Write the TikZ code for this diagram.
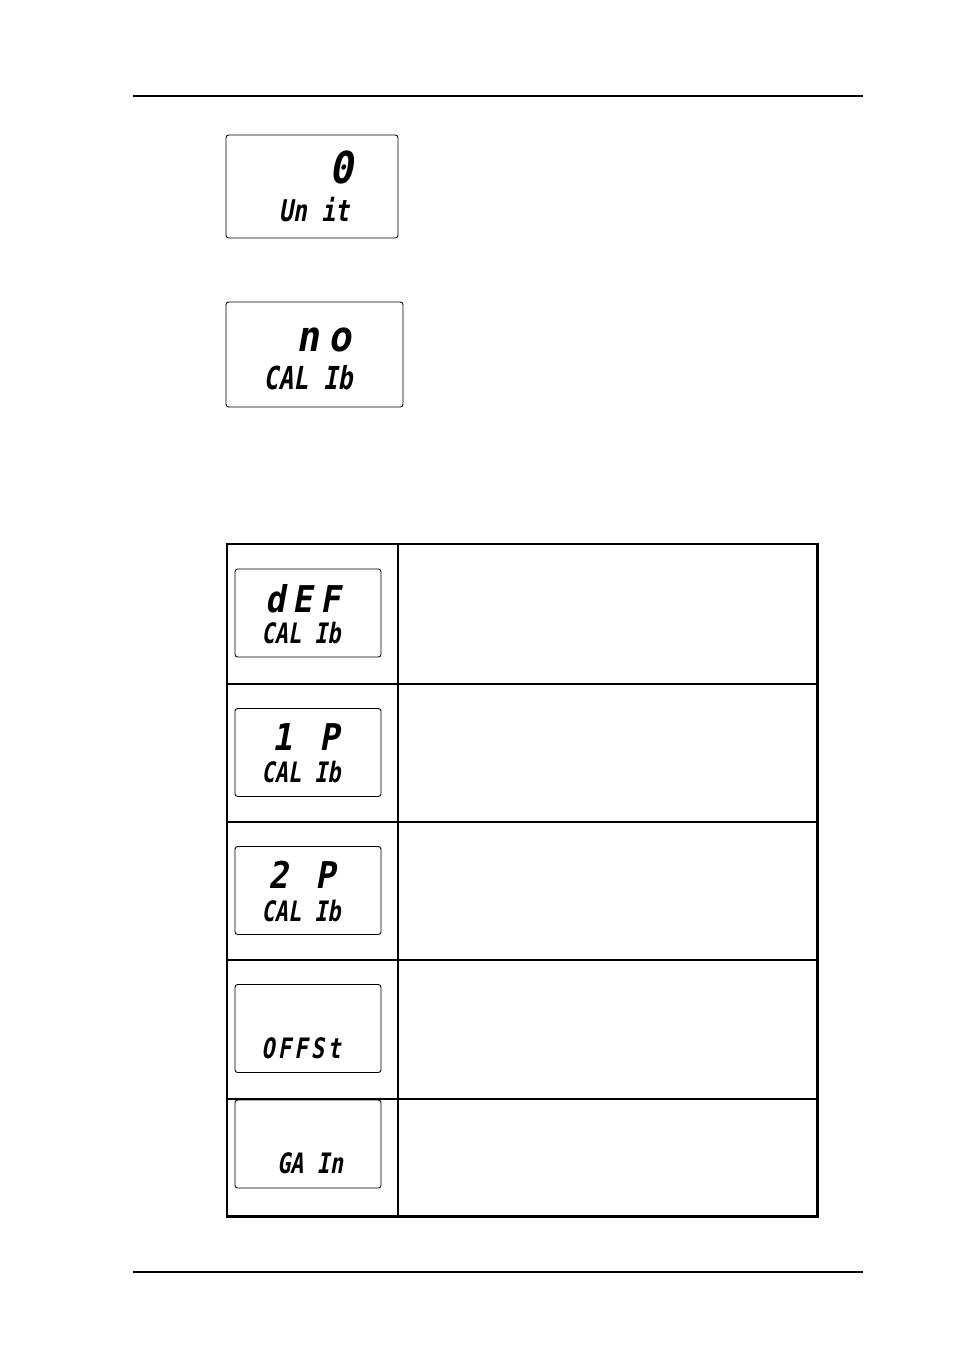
\documentclass[tikz,border=0pt]{standalone}
\usepackage{fontspec}
\newfontfamily\lcdfont[FakeSlant=0.18,FakeStretch=0.78]{DejaVu Sans Mono}
\newfontfamily\lcdbig[FakeSlant=0.18,FakeStretch=0.9,LetterSpace=20]{DejaVu Sans Mono}
\usetikzlibrary{positioning}

\begin{document}
\begin{tikzpicture}[x=0.02cm, y=-0.02cm,
  lcd/.style={draw, rounded corners=1.5pt, line width=0.5pt, inner sep=0pt, minimum width=2.92cm, minimum height=1.76cm},
  big/.style={inner sep=0pt, font=\lcdbig\bfseries\fontsize{#1}{#1}\selectfont},
  big/.default=21,
  small/.style={inner sep=0pt, font=\lcdfont\bfseries\fontsize{#1}{#1}\selectfont},
  small/.default=16,
  rule/.style={line width=0.8pt}]
\useasboundingbox (0,0) rectangle (954,1348);
\draw[rule] (133,96) -- (863,96);
\draw[rule] (133,1272) -- (863,1272);
\node[lcd, minimum width=3.44cm, minimum height=2.06cm] (unitlcd) at (312,186.5) {};
\node[big=25] (zero) at (341,168) {0};
\node[small=17] (unit) at (314,210) {Un it};
\node[lcd, minimum width=3.54cm, minimum height=2.1cm] (nolcd) at (314.5,354.5) {};
\node[big=24] (no) at (324,340) {no};
\node[small=18] (calno) at (308,378) {CAL Ib};
\draw[line width=1.7pt] (227,544) rectangle (817,1216);
\draw[line width=1.1pt] (398,544) -- (398,1216);
\foreach \y in {684,822,960,1099}
  \draw[line width=0.6pt] (227,\y) -- (817,\y);
\node[lcd] (deflcd) at (308,613) {};
\node[big] (def) at (303,599) {dEF};
\node[small] (caldef) at (301,633) {CAL Ib};
\node[lcd] (onelcd) at (308,752.5) {};
\node[big] (onep) at (306,737) {1 P};
\node[small] (calone) at (301,772) {CAL Ib};
\node[lcd] (twolcd) at (308,890.5) {};
\node[big] (twop) at (302,875) {2 P};
\node[small] (caltwo) at (301,911) {CAL Ib};
\node[lcd] (offlcd) at (308,1028.5) {};
\node[small, font=\lcdfont\bfseries\fontsize{16}{16}\selectfont\addfontfeature{LetterSpace=12}] (offst) at (301,1048) {OFFSt};
\node[lcd] (gainlcd) at (308,1144) {};
\node[small] (gain) at (310,1163) {GA In};
\end{tikzpicture}
\end{document}
